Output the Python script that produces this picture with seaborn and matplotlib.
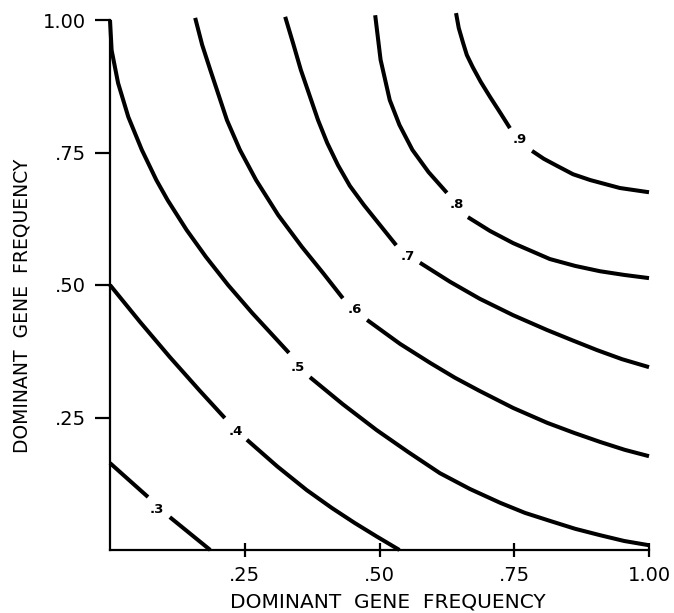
import matplotlib
matplotlib.use("Agg")
import matplotlib.pyplot as plt
import numpy as np
import pandas as pd
import seaborn as sns

# Isolines of the combined value over the two dominant gene frequencies.
# Each isoline is broken where its value label sits: part "a" runs up to
# the label, part "b" continues after it.
levels = [0.3, 0.4, 0.5, 0.6, 0.7, 0.8, 0.9]
level_labels = [".3", ".4", ".5", ".6", ".7", ".8", ".9"]

c3_a_x = [0.0, 0.0705]
c3_a_y = [0.164, 0.100]
c3_b_x = [0.111, 0.186]
c3_b_y = [0.062, 0.0]

c4_a_x = [0.0, 0.056, 0.111, 0.167, 0.213]
c4_a_y = [0.500, 0.430, 0.364, 0.300, 0.249]
c4_b_x = [0.254, 0.310, 0.365, 0.412, 0.454, 0.494, 0.537]
c4_b_y = [0.208, 0.158, 0.113, 0.079, 0.051, 0.026, 0.0]

c5_a_x = [0.0, 0.003, 0.015, 0.034, 0.059, 0.086, 0.107, 0.142, 0.178,
          0.219, 0.264, 0.332]
c5_a_y = [1.0, 0.943, 0.881, 0.817, 0.755, 0.698, 0.660, 0.604, 0.553,
          0.500, 0.447, 0.372]
c5_b_x = [0.371, 0.432, 0.495, 0.553, 0.612, 0.668, 0.724, 0.770, 0.816,
          0.863, 0.909, 0.954, 1.0]
c5_b_y = [0.326, 0.275, 0.226, 0.185, 0.145, 0.115, 0.089, 0.070, 0.055,
          0.040, 0.028, 0.017, 0.009]

c6_a_x = [0.158, 0.171, 0.186, 0.217, 0.241, 0.271, 0.312, 0.356, 0.395,
          0.432]
c6_a_y = [1.004, 0.953, 0.906, 0.811, 0.755, 0.698, 0.632, 0.572, 0.523,
          0.475]
c6_b_x = [0.477, 0.538, 0.594, 0.640, 0.686, 0.748, 0.811, 0.861, 0.909,
          0.955, 1.0]
c6_b_y = [0.434, 0.389, 0.353, 0.325, 0.300, 0.268, 0.240, 0.221, 0.204,
          0.189, 0.177]

c7_a_x = [0.325, 0.340, 0.354, 0.386, 0.403, 0.423, 0.445, 0.471, 0.501,
          0.531]
c7_a_y = [1.006, 0.955, 0.906, 0.811, 0.768, 0.726, 0.687, 0.651, 0.613,
          0.575]
c7_b_x = [0.575, 0.631, 0.686, 0.748, 0.811, 0.857, 0.904, 0.950, 1.0]
c7_b_y = [0.542, 0.506, 0.474, 0.443, 0.415, 0.396, 0.377, 0.360, 0.345]

c8_a_x = [0.492, 0.502, 0.519, 0.537, 0.561, 0.591, 0.625]
c8_a_y = [1.009, 0.925, 0.849, 0.802, 0.755, 0.713, 0.674]
c8_b_x = [0.664, 0.705, 0.748, 0.816, 0.863, 0.909, 0.954, 1.0]
c8_b_y = [0.628, 0.602, 0.579, 0.549, 0.536, 0.526, 0.519, 0.513]

c9_a_x = [0.642, 0.647, 0.655, 0.662, 0.673, 0.688, 0.705, 0.724, 0.742]
c9_a_y = [1.013, 0.985, 0.957, 0.934, 0.911, 0.883, 0.855, 0.825, 0.796]
c9_b_x = [0.783, 0.805, 0.829, 0.859, 0.891, 0.946, 1.0]
c9_b_y = [0.753, 0.738, 0.725, 0.709, 0.698, 0.683, 0.675]

# where each value label is written on its isoline
label_x = [0.087, 0.234, 0.349, 0.455, 0.553, 0.644, 0.761]
label_y = [0.077, 0.223, 0.345, 0.453, 0.553, 0.651, 0.774]

tick_values = [0.25, 0.50, 0.75, 1.00]
tick_labels = [".25", ".50", ".75", "1.00"]
axis_title = "DOMINANT  GENE  FREQUENCY"

segments = [
    (0.3, "a", c3_a_x, c3_a_y), (0.3, "b", c3_b_x, c3_b_y),
    (0.4, "a", c4_a_x, c4_a_y), (0.4, "b", c4_b_x, c4_b_y),
    (0.5, "a", c5_a_x, c5_a_y), (0.5, "b", c5_b_x, c5_b_y),
    (0.6, "a", c6_a_x, c6_a_y), (0.6, "b", c6_b_x, c6_b_y),
    (0.7, "a", c7_a_x, c7_a_y), (0.7, "b", c7_b_x, c7_b_y),
    (0.8, "a", c8_a_x, c8_a_y), (0.8, "b", c8_b_x, c8_b_y),
    (0.9, "a", c9_a_x, c9_a_y), (0.9, "b", c9_b_x, c9_b_y),
]

rows = []
for lev, part, xs, ys in segments:
    for order, (xv, yv) in enumerate(zip(xs, ys)):
        rows.append({"level": lev, "seg": f"{lev:.1f}{part}", "order": order,
                     "x": xv, "y": yv})
df = pd.DataFrame(rows)

sns.set_theme(style="ticks")
plt.rcParams["font.family"] = ["DejaVu Sans"]

fig = plt.figure(figsize=(6.74, 6.13), dpi=100)
fig.patch.set_facecolor("white")
ax = fig.add_axes([110 / 674, 63 / 613, 539 / 674, 530 / 613])
ax.set_facecolor("white")

sns.lineplot(data=df, x="x", y="y", units="seg", estimator=None, sort=False,
             color="black", linewidth=2.9, legend=False, ax=ax)
for line in ax.lines:
    line.set_clip_on(False)
    line.set_solid_capstyle("butt")
    line.set_solid_joinstyle("round")

for txt, lx, ly in zip(level_labels, label_x, label_y):
    ax.text(lx, ly, txt, ha="center", va="center", fontsize=9.5,
            fontweight="bold", color="black")

ax.set_xlim(0, 1)
ax.set_ylim(0, 1)
sns.despine(ax=ax)
for side in ("left", "bottom"):
    ax.spines[side].set_linewidth(1.6)
    ax.spines[side].set_color("black")
ax.spines["left"].set_bounds(0, 1)
ax.spines["bottom"].set_bounds(0, 1)

ax.set_xticks(tick_values)
ax.set_xticklabels(tick_labels)
ax.set_yticks(tick_values)
ax.set_yticklabels(tick_labels)
ax.tick_params(axis="x", direction="inout", length=9.5, width=1.6, pad=7,
               labelsize=14, colors="black")
ax.tick_params(axis="y", direction="out", length=10.5, width=1.6, pad=7,
               labelsize=14, colors="black")
ax.set_xlabel("")
ax.set_ylabel("")

fig.text(388 / 674, 1 - 607 / 613, axis_title, ha="center", va="baseline",
         fontsize=14.5, color="black")
fig.text(22 / 674, 1 - 306 / 613, axis_title, ha="center", va="center",
         rotation=90, fontsize=13.5, color="black")

fig.savefig("out.png", dpi=100, facecolor="white")
